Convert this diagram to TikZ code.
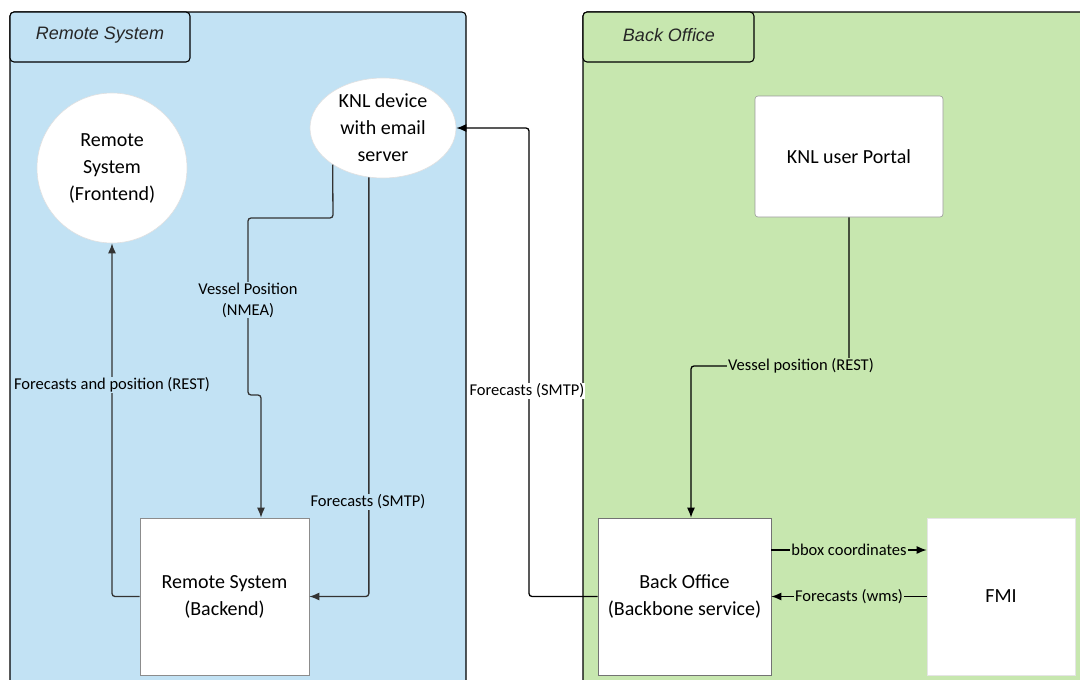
\documentclass[tikz,border=0pt]{standalone}
\usepackage{fontspec}
\setmainfont{Carlito}
\newfontfamily\titlefont{Liberation Sans}
\usetikzlibrary{shapes.geometric,arrows.meta}
\definecolor{panelblue}{HTML}{C2E2F4}
\definecolor{panelgreen}{HTML}{C7E7AF}
\definecolor{darkline}{HTML}{333333}
\tikzset{
  panel/.style={draw=black, line width=1.1pt, rounded corners=4pt},
  tabtext/.style={font=\titlefont\itshape\fontsize{18}{22}\selectfont, text=black!85},
  nodetext/.style={font=\fontsize{20}{27}\selectfont, align=center},
  whitebox/.style={draw=#1, fill=white, line width=0.6pt, inner sep=0pt, nodetext},
  lbl/.style={font=\fontsize{16.5}{21}\selectfont, align=center, inner sep=1pt, fill=#1},
  conn/.style={line width=1.3pt, rounded corners=3pt, -{Latex[length=10pt,width=8pt]}},
}
\begin{document}
\begin{tikzpicture}[x=1pt,y=-1pt]
\useasboundingbox (0,0) rectangle (1080,680);
\clip (0,0) rectangle (1080,680);
% panels
\draw[panel, fill=panelblue] (10,12) rectangle (466,720);
\draw[panel, fill=panelblue] (10,12) rectangle (190,62);
\node[tabtext] (tabL) at (100,35) {Remote System};
\draw[panel, fill=panelgreen] (583,12) rectangle (1120,720);
\draw[panel, fill=panelgreen] (583,12) rectangle (754,62);
\node[tabtext] (tabR) at (669,35) {Back Office};

% nodes
\node[circle, whitebox=black!12, minimum size=150pt] (front) at (112,168) {Remote\\System\\(Frontend)};
\node[ellipse, draw=black!12, fill=white, line width=0.6pt, minimum width=146pt, minimum height=100pt, inner sep=0pt] (knl) at (383,128) {};
\node[nodetext] (knltext) at (383,128) {KNL device\\with email\\server};
\node[whitebox=black!45, minimum width=169pt, minimum height=157pt] (back) at (224.5,596.5) {Remote System\\(Backend)};
\node[whitebox=black!40, rounded corners=3pt, minimum width=188pt, minimum height=121pt] (portal) at (849,156.5) {KNL user Portal};
\node[whitebox=black!55, minimum width=173pt, minimum height=157pt] (bo) at (684.5,596.5) {Back Office\\(Backbone service)};
\node[whitebox=black!10, minimum width=148pt, minimum height=157pt] (fmi) at (1001,596.5) {FMI};

% connectors in Remote System
\draw[conn, draw=darkline] (knl.216) -- (333,218) -- (248,218) -- (248,395) -- (261,395) -- ([xshift=36.5pt]back.north);
\node[lbl=panelblue] (l1) at (248,300) {Vessel Position\\(NMEA)};

\draw[conn, draw=darkline] (knl.254) |- (back.east);
\node[lbl=panelblue] (l2) at (368,502) {Forecasts (SMTP)};

\draw[conn, draw=darkline] (back.west) -| (front.south);
\node[lbl=panelblue] (l3) at (112,385) {Forecasts and position (REST)};

% connectors from Back Office
\coordinate (c4) at (529,128);
\draw[conn, draw=black] (bo.west) -| (c4) -- (knl.east);
\node[lbl=white] (l4) at (527,391) {Forecasts (SMTP)};

\draw[conn, draw=black] (portal.south) -- (849,366) -- (691,366) -- ([xshift=6.5pt]bo.north);
\node[lbl=panelgreen] (l5) at (801,366) {Vessel position (REST)};

\draw[conn, draw=black, rounded corners=0pt] ([yshift=46.5pt]bo.east) -- ([yshift=46.5pt]fmi.west)
  node[midway, lbl=panelgreen] (l6) {bbox coordinates};
\draw[conn, draw=black, rounded corners=0pt] (fmi.west) -- (bo.east)
  node[midway, lbl=panelgreen] (l7) {Forecasts (wms)};
\end{tikzpicture}
\end{document}
